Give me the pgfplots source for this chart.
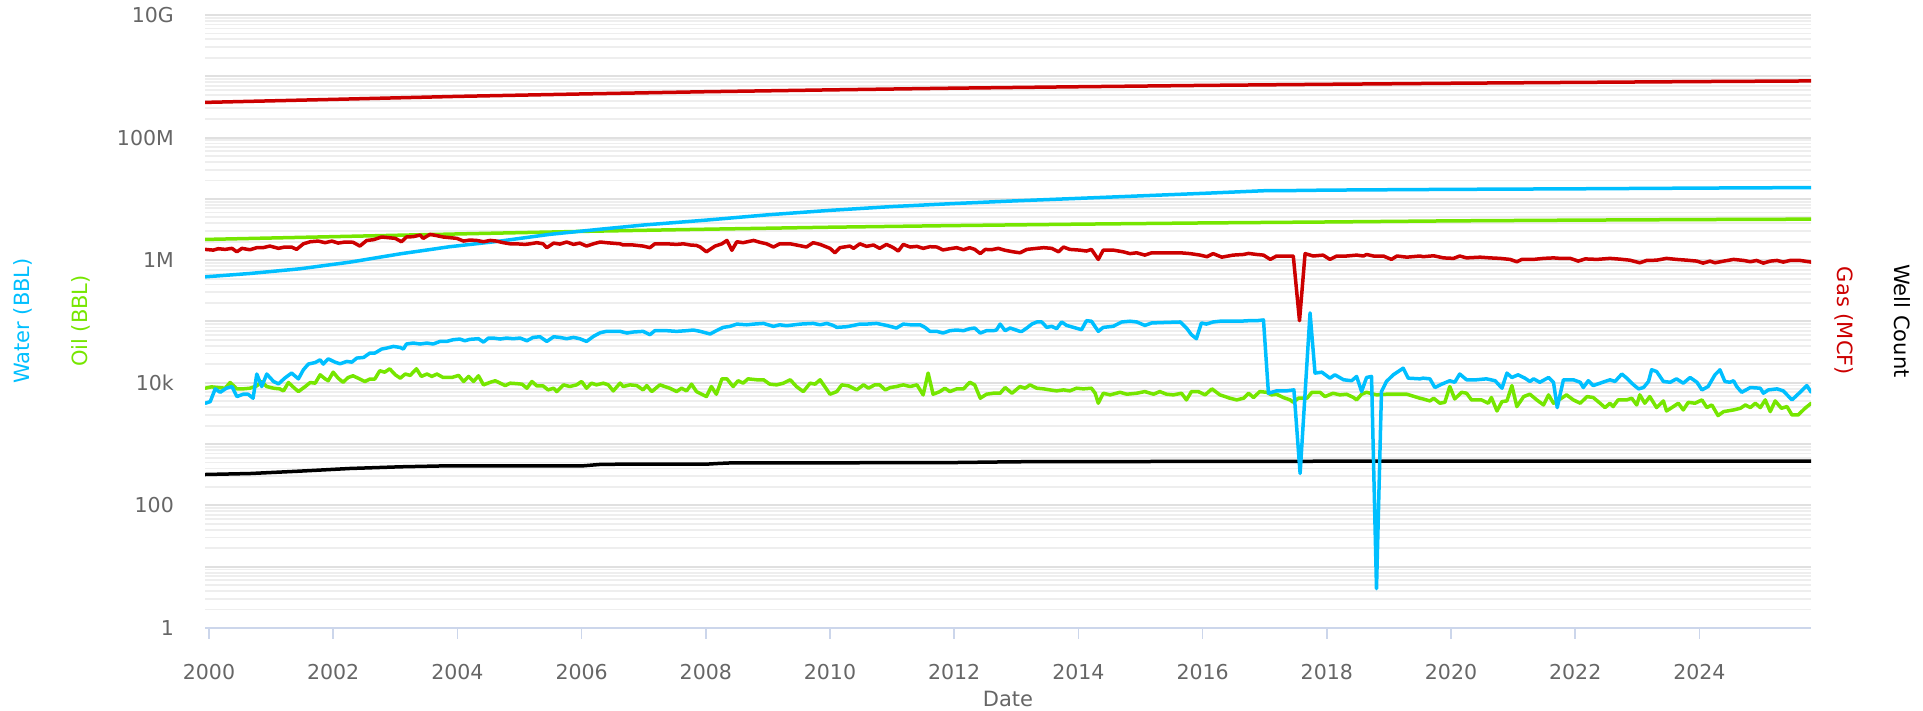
\documentclass[border=0pt]{standalone}
\usepackage{fontspec}
\setmainfont{DejaVu Sans}
\usepackage{pgfplots}
\pgfplotsset{compat=1.18}
\definecolor{gasc}{RGB}{204,0,0}
\definecolor{waterc}{RGB}{0,191,255}
\definecolor{oilc}{RGB}{118,230,0}
\definecolor{labc}{RGB}{102,102,102}
\definecolor{axc}{RGB}{204,214,235}
\definecolor{gridmaj}{RGB}{224,224,224}
\definecolor{gridmin}{RGB}{238,238,238}
\begin{document}
\begin{tikzpicture}[x=1bp,y=1bp]
\useasboundingbox (0,0) rectangle (1923,711);
\begin{axis}[
  at={(205bp,83bp)}, anchor=south west,
  scale only axis, width=1606bp, height=613bp,
  ymode=log,
  xmin=1999.936, xmax=2025.797, ymin=1, ymax=1e10,
  axis x line*=bottom, axis y line*=left,
  x axis line style={draw=axc, line width=2bp},
  y axis line style={draw=none},
  xtick={2000,2002,2004,2006,2008,2010,2012,2014,2016,2018,2020,2022,2024},
  xticklabels={2000,2002,2004,2006,2008,2010,2012,2014,2016,2018,2020,2022,2024},
  xtick align=outside,
  major tick length=11bp,
  xtick style={draw=axc, line width=1.5bp},
  ytick={1,10,100,1000,10000,100000,1000000,1e7,1e8,1e9,1e10},
  yticklabels={1,,100,,10k,,1M,,100M,,10G},
  ytick style={draw=none},
  minor ytick={2,3,4,5,6,7,8,9,20,30,40,50,60,70,80,90,200,300,400,500,600,700,800,900,2000,3000,4000,5000,6000,7000,8000,9000,2e4,3e4,4e4,5e4,6e4,7e4,8e4,9e4,2e5,3e5,4e5,5e5,6e5,7e5,8e5,9e5,2e6,3e6,4e6,5e6,6e6,7e6,8e6,9e6,2e7,3e7,4e7,5e7,6e7,7e7,8e7,9e7,2e8,3e8,4e8,5e8,6e8,7e8,8e8,9e8,2e9,3e9,4e9,5e9,6e9,7e9,8e9,9e9},
  ymajorgrids, yminorgrids,
  major grid style={draw=gridmaj, line width=2bp},
  minor grid style={draw=gridmin, line width=1.8bp},
  tick label style={font=\fontsize{20.5bp}{20.5bp}\selectfont, text=labc},
  xticklabel style={anchor=base, yshift=-41bp},
  yticklabel style={anchor=east, inner sep=0pt, xshift=-31bp},
  /pgf/number format/assume math mode=true,
  every axis plot/.append style={line width=3.5bp, line join=round, line cap=round, no markers},
]
% cumulative oil
\addplot[oilc] coordinates {(1999.94,2.18e6)(2002,2.42e6)(2004,2.68e6)(2006,2.95e6)(2008,3.2e6)(2010,3.45e6)(2012,3.67e6)(2014,3.87e6)(2016,4.05e6)(2018,4.2e6)(2020,4.38e6)(2022,4.5e6)(2024,4.6e6)(2025.8,4.67e6)};
% cumulative water
\addplot[waterc] coordinates {(1999.94,5.35e5)(2000.66,6.07e5)(2001.46,7.23e5)(2002.27,9.29e5)(2003.08,1.27e6)(2003.88,1.66e6)(2004.69,2.05e6)(2005.49,2.64e6)(2006.30,3.2e6)(2007,3.75e6)(2008,4.5e6)(2009,5.5e6)(2010,6.5e6)(2011,7.5e6)(2012,8.4e6)(2013,9.3e6)(2014,1.02e7)(2015,1.12e7)(2016,1.23e7)(2017,1.36e7)(2017.5,1.37e7)(2018,1.39e7)(2019,1.41e7)(2020,1.43e7)(2022,1.46e7)(2024,1.50e7)(2025.8,1.53e7)};
% cumulative gas
\addplot[gasc] coordinates {(1999.94,3.75e8)(2002,4.2e8)(2004,4.7e8)(2006,5.15e8)(2008,5.6e8)(2010,6.0e8)(2012,6.4e8)(2014,6.75e8)(2016,7.1e8)(2018,7.4e8)(2020,7.7e8)(2022,7.95e8)(2024,8.2e8)(2025.8,8.4e8)};
% well count
\addplot[black] coordinates {(1999.94,319)(2000.66,331)(2001.46,362)(2002.27,400)(2003.08,426)(2003.88,443)(2005.5,443)(2006.0,440)(2006.3,466)(2006.62,470)(2008.0,470)(2008.2,483)(2008.44,495)(2010,495)(2012,500)(2013,515)(2016,522)(2019,527)(2025.8,527)};
% oil monthly
\addplot[oilc] coordinates {
(1999.94,8.16e3)(2000.04,8.58e3)(2000.15,8.37e3)(2000.26,8.16e3)(2000.34,1.01e4)(2000.45,7.96e3)(2000.55,7.96e3)(2000.66,8.16e3)(2000.77,8.9e3)(2000.85,1.05e4)(2000.93,8.69e3)(2001.04,8.16e3)(2001.14,7.96e3)(2001.20,7.38e3)(2001.28,1.01e4)(2001.36,8.47e3)(2001.44,7.19e3)(2001.55,8.69e3)(2001.63,1.01e4)(2001.71,9.86e3)(2001.79,1.35e4)(2001.87,1.16e4)(2001.92,1.08e4)(2002.00,1.49e4)(2002.08,1.19e4)(2002.16,1.02e4)(2002.24,1.22e4)(2002.32,1.30e4)(2002.40,1.19e4)(2002.51,1.05e4)(2002.59,1.15e4)(2002.67,1.15e4)(2002.75,1.57e4)(2002.83,1.49e4)(2002.91,1.69e4)(2003.00,1.35e4)(2003.08,1.19e4)(2003.16,1.39e4)(2003.24,1.32e4)(2003.34,1.69e4)(2003.42,1.27e4)(2003.51,1.39e4)(2003.59,1.27e4)(2003.67,1.39e4)(2003.77,1.22e4)(2003.91,1.22e4)(2004.02,1.32e4)(2004.10,1.05e4)(2004.18,1.27e4)(2004.26,1.05e4)(2004.34,1.30e4)(2004.42,9.25e3)(2004.53,1.02e4)(2004.61,1.08e4)(2004.69,9.86e3)(2004.77,9.0e3)(2004.85,9.86e3)(2004.95,9.7e3)(2005.04,9.5e3)(2005.12,8.16e3)(2005.20,1.05e4)(2005.28,8.9e3)(2005.38,8.9e3)(2005.46,7.66e3)(2005.55,8.16e3)(2005.60,7.19e3)(2005.71,9.25e3)(2005.81,8.69e3)(2005.92,9.25e3)(2006.00,1.05e4)(2006.08,8.16e3)(2006.16,9.86e3)(2006.24,9.25e3)(2006.35,9.86e3)(2006.43,9.25e3)(2006.51,7.38e3)(2006.62,9.86e3)
(2006.67,8.69e3)(2006.78,9.25e3)(2006.89,9.0e3)(2006.99,7.66e3)(2007.05,9.0e3)(2007.13,7.19e3)(2007.26,9.25e3)(2007.42,8.16e3)(2007.53,7.19e3)(2007.61,8.16e3)(2007.69,7.38e3)(2007.77,9.5e3)(2007.85,7.19e3)(2008.01,5.96e3)(2008.09,8.69e3)(2008.17,6.51e3)(2008.26,1.16e4)(2008.34,1.16e4)(2008.44,8.69e3)(2008.52,1.08e4)(2008.60,9.86e3)(2008.68,1.16e4)(2008.82,1.12e4)(2008.93,1.12e4)(2009.03,9.5e3)(2009.14,9.25e3)(2009.25,9.86e3)(2009.36,1.12e4)(2009.46,8.69e3)(2009.57,7.19e3)(2009.68,9.86e3)(2009.76,9.5e3)(2009.84,1.12e4)(2010.00,6.51e3)(2010.11,7.19e3)(2010.19,9.25e3)(2010.30,8.9e3)(2010.43,7.66e3)(2010.54,9.25e3)(2010.62,8.16e3)(2010.72,9.25e3)(2010.80,9.25e3)(2010.89,7.66e3)(2010.97,8.37e3)(2011.07,8.69e3)(2011.18,9.25e3)(2011.29,8.69e3)(2011.40,9.25e3)(2011.50,6.35e3)(2011.58,1.44e4)(2011.66,6.51e3)(2011.77,7.19e3)(2011.85,8.16e3)(2011.93,7.19e3)(2012.04,7.96e3)(2012.15,7.96e3)(2012.25,1.02e4)(2012.33,9.25e3)(2012.42,5.60e3)(2012.52,6.51e3)(2012.63,6.76e3)(2012.74,6.76e3)(2012.82,8.37e3)(2012.93,6.76e3)(2013.06,8.69e3)
(2013.14,8.16e3)(2013.22,9.25e3)(2013.33,8.16e3)(2013.44,7.96e3)(2013.54,7.66e3)(2013.65,7.38e3)(2013.76,7.66e3)(2013.86,7.38e3)(2013.97,8.16e3)(2014.08,7.96e3)(2014.21,8.16e3)(2014.27,6.76e3)(2014.32,4.64e3)(2014.40,6.76e3)(2014.51,6.35e3)(2014.67,7.0e3)(2014.78,6.51e3)(2014.94,6.76e3)(2015.07,7.19e3)(2015.21,6.51e3)(2015.31,7.19e3)(2015.42,6.51e3)(2015.53,6.35e3)(2015.66,6.76e3)(2015.74,5.26e3)(2015.82,7.19e3)(2015.93,7.19e3)(2016.04,6.35e3)(2016.15,7.96e3)(2016.28,6.35e3)(2016.44,5.60e3)(2016.55,5.26e3)(2016.66,5.60e3)(2016.74,6.76e3)(2016.82,5.75e3)(2016.92,7.19e3)(2017.03,7.0e3)(2017.11,6.35e3)(2017.19,6.51e3)(2017.30,5.75e3)(2017.41,5.26e3)(2017.46,4.80e3)(2017.54,5.60e3)(2017.68,5.60e3)(2017.76,7.0e3)(2017.89,7.0e3)(2017.97,5.96e3)(2018.10,6.76e3)(2018.21,6.35e3)(2018.32,6.51e3)(2018.43,5.75e3)(2018.48,5.26e3)(2018.56,6.51e3)(2018.64,7.0e3)(2018.80,6.35e3)(2018.96,6.51e3)(2019.12,6.51e3)(2019.29,6.51e3)(2019.50,5.60e3)
(2019.55,5.45e3)(2019.66,5.06e3)(2019.72,5.60e3)(2019.82,4.64e3)(2019.90,4.80e3)(2019.98,8.69e3)(2020.06,5.45e3)(2020.17,7.0e3)(2020.25,6.76e3)(2020.33,5.26e3)(2020.49,5.26e3)(2020.60,4.64e3)(2020.65,5.75e3)(2020.74,3.47e3)(2020.82,4.93e3)(2020.90,5.06e3)(2020.98,9.0e3)(2021.06,4.09e3)(2021.17,5.96e3)(2021.27,6.51e3)(2021.38,5.26e3)(2021.49,4.35e3)(2021.57,6.35e3)(2021.65,4.64e3)(2021.76,5.45e3)(2021.86,6.35e3)(2021.97,5.26e3)(2022.08,4.64e3)(2022.19,5.96e3)(2022.29,5.75e3)(2022.40,4.64e3)(2022.48,3.94e3)(2022.56,4.64e3)(2022.61,4.09e3)(2022.69,5.26e3)(2022.83,5.26e3)(2022.91,5.60e3)(2022.99,4.35e3)(2023.04,6.35e3)(2023.12,4.64e3)(2023.20,5.96e3)(2023.31,3.94e3)(2023.42,5.06e3)(2023.47,3.47e3)(2023.58,4.09e3)(2023.66,4.64e3)(2023.74,3.61e3)(2023.82,4.80e3)(2023.93,4.64e3)(2024.04,5.26e3)(2024.12,3.94e3)(2024.20,4.35e3)(2024.30,2.92e3)(2024.39,3.39e3)(2024.55,3.61e3)(2024.66,3.84e3)(2024.74,4.35e3)(2024.82,3.94e3)(2024.90,4.64e3)(2024.98,3.94e3)(2025.06,5.26e3)(2025.14,3.39e3)(2025.22,5.06e3)(2025.32,3.84e3)(2025.41,4.09e3)(2025.49,2.99e3)(2025.59,2.99e3)(2025.70,3.84e3)(2025.80,4.64e3)};
% gas monthly
\addplot[gasc] coordinates {
(1999.94,1.50e6)(2000.07,1.46e6)(2000.15,1.54e6)(2000.26,1.50e6)(2000.37,1.56e6)(2000.45,1.37e6)(2000.53,1.56e6)(2000.66,1.48e6)(2000.77,1.60e6)(2000.87,1.60e6)(2000.98,1.70e6)(2001.12,1.56e6)(2001.22,1.64e6)(2001.33,1.64e6)(2001.41,1.50e6)(2001.52,1.85e6)(2001.63,2.00e6)(2001.76,2.05e6)(2001.87,1.93e6)(2001.98,2.05e6)(2002.08,1.90e6)(2002.19,1.98e6)(2002.32,1.96e6)(2002.43,1.70e6)(2002.54,2.10e6)(2002.65,2.16e6)(2002.78,2.39e6)(2002.89,2.33e6)(2003.00,2.27e6)(2003.10,2.00e6)(2003.18,2.39e6)(2003.29,2.42e6)(2003.40,2.57e6)(2003.45,2.27e6)(2003.56,2.64e6)(2003.67,2.51e6)(2003.77,2.39e6)(2003.88,2.33e6)(2003.99,2.27e6)(2004.10,2.05e6)(2004.20,2.13e6)(2004.31,2.10e6)(2004.42,2.00e6)(2004.53,2.10e6)(2004.63,2.05e6)(2004.74,1.93e6)(2004.85,1.85e6)(2004.95,1.85e6)(2005.09,1.81e6)(2005.17,1.85e6)(2005.28,1.93e6)(2005.38,1.85e6)(2005.44,1.60e6)(2005.55,1.90e6)(2005.65,1.83e6)(2005.76,1.98e6)(2005.87,1.81e6)(2005.97,1.90e6)(2006.08,1.70e6)(2006.19,1.85e6)(2006.30,1.98e6)(2006.40,1.93e6)(2006.62,1.85e6)
(2006.67,1.77e6)(2006.83,1.77e6)(2006.99,1.70e6)(2007.10,1.60e6)(2007.18,1.85e6)(2007.37,1.85e6)(2007.53,1.81e6)(2007.64,1.85e6)(2007.75,1.77e6)(2007.85,1.74e6)(2007.91,1.64e6)(2008.01,1.37e6)(2008.15,1.70e6)(2008.26,1.85e6)(2008.34,2.10e6)(2008.42,1.45e6)(2008.50,2.00e6)(2008.60,1.93e6)(2008.77,2.10e6)(2008.87,1.96e6)(2008.98,1.85e6)(2009.09,1.64e6)(2009.19,1.85e6)(2009.36,1.85e6)(2009.52,1.72e6)(2009.62,1.64e6)(2009.73,1.93e6)(2009.84,1.81e6)(2010.00,1.56e6)(2010.08,1.32e6)(2010.16,1.60e6)(2010.32,1.70e6)(2010.38,1.56e6)(2010.48,1.85e6)(2010.59,1.68e6)(2010.70,1.77e6)(2010.80,1.56e6)(2010.91,1.81e6)(2011.02,1.60e6)(2011.10,1.41e6)(2011.18,1.81e6)(2011.29,1.64e6)(2011.40,1.68e6)(2011.50,1.56e6)(2011.61,1.66e6)(2011.72,1.64e6)(2011.82,1.47e6)(2011.93,1.54e6)(2012.04,1.60e6)(2012.15,1.48e6)(2012.25,1.60e6)(2012.33,1.50e6)(2012.42,1.28e6)(2012.50,1.50e6)(2012.60,1.48e6)(2012.71,1.56e6)(2012.82,1.45e6)(2012.95,1.37e6)(2013.06,1.32e6)
(2013.17,1.50e6)(2013.33,1.56e6)(2013.44,1.60e6)(2013.57,1.56e6)(2013.68,1.37e6)(2013.76,1.64e6)(2013.86,1.50e6)(2014.02,1.46e6)(2014.13,1.41e6)(2014.21,1.50e6)(2014.32,1.03e6)(2014.40,1.46e6)(2014.56,1.46e6)(2014.72,1.37e6)(2014.83,1.28e6)(2014.94,1.32e6)(2015.07,1.21e6)(2015.18,1.32e6)(2015.31,1.32e6)(2015.47,1.32e6)(2015.64,1.32e6)(2015.80,1.28e6)(2015.96,1.21e6)(2016.07,1.14e6)(2016.17,1.28e6)(2016.31,1.12e6)(2016.49,1.21e6)(2016.66,1.24e6)(2016.74,1.29e6)(2016.87,1.24e6)(2016.98,1.21e6)(2017.09,1.03e6)(2017.19,1.17e6)(2017.35,1.17e6)(2017.46,1.17e6)(2017.56,1.03e5)(2017.65,1.28e6)(2017.78,1.17e6)(2017.94,1.21e6)(2018.05,1.03e6)(2018.16,1.17e6)(2018.32,1.17e6)(2018.48,1.21e6)(2018.59,1.17e6)(2018.64,1.24e6)(2018.75,1.17e6)(2018.91,1.17e6)(2019.04,1.03e6)(2019.13,1.17e6)(2019.29,1.12e6)(2019.50,1.17e6)
(2019.55,1.14e6)(2019.72,1.18e6)(2019.88,1.09e6)(2020.04,1.07e6)(2020.14,1.17e6)(2020.25,1.09e6)(2020.47,1.12e6)(2020.63,1.09e6)(2020.79,1.07e6)(2020.95,1.03e6)(2021.06,9.43e5)(2021.14,1.03e6)(2021.33,1.03e6)(2021.49,1.07e6)(2021.65,1.09e6)(2021.76,1.07e6)(2021.92,1.07e6)(2022.05,9.66e5)(2022.16,1.05e6)(2022.35,1.03e6)(2022.56,1.07e6)(2022.72,1.04e6)(2022.88,1.00e6)(2023.04,9.06e5)(2023.15,9.91e5)(2023.31,1.00e6)(2023.47,1.07e6)(2023.63,1.03e6)(2023.80,1.00e6)(2023.96,9.66e5)(2024.06,8.95e5)(2024.17,9.66e5)(2024.25,9.06e5)(2024.39,9.66e5)(2024.55,1.03e6)(2024.71,9.91e5)(2024.82,9.43e5)(2024.92,9.91e5)(2025.03,8.95e5)(2025.14,9.66e5)(2025.25,9.91e5)(2025.35,9.31e5)(2025.46,9.91e5)(2025.62,9.91e5)(2025.80,9.31e5)};
% water monthly
\addplot[waterc] coordinates {
(1999.94,4.64e3)(2000.02,4.93e3)(2000.10,7.96e3)(2000.18,7.0e3)(2000.28,8.16e3)(2000.37,8.69e3)(2000.45,5.96e3)(2000.55,6.51e3)(2000.63,6.51e3)(2000.71,5.60e3)(2000.77,1.39e4)(2000.85,8.69e3)(2000.93,1.39e4)(2001.04,1.05e4)(2001.12,9.6e3)(2001.22,1.19e4)(2001.33,1.44e4)(2001.44,1.16e4)(2001.52,1.63e4)(2001.60,2.02e4)(2001.71,2.14e4)(2001.79,2.37e4)(2001.84,2.02e4)(2001.92,2.46e4)(2002.03,2.17e4)(2002.11,2.04e4)(2002.22,2.23e4)(2002.30,2.17e4)(2002.38,2.53e4)(2002.49,2.59e4)(2002.59,3.05e4)(2002.67,3.05e4)(2002.78,3.55e4)(2002.86,3.68e4)(2002.97,3.92e4)(2003.08,3.77e4)(2003.13,3.55e4)(2003.18,4.29e4)(2003.29,4.45e4)(2003.40,4.29e4)(2003.51,4.45e4)(2003.61,4.29e4)(2003.72,4.73e4)(2003.83,4.73e4)(2003.93,5.04e4)(2004.04,5.17e4)(2004.12,4.85e4)(2004.20,5.11e4)(2004.34,5.24e4)(2004.42,4.61e4)(2004.50,5.37e4)(2004.58,5.37e4)(2004.69,5.17e4)(2004.79,5.37e4)(2004.90,5.24e4)(2005.01,5.37e4)(2005.12,4.85e4)(2005.22,5.50e4)(2005.33,5.64e4)(2005.44,4.73e4)(2005.55,5.64e4)(2005.65,5.50e4)(2005.76,5.24e4)(2005.87,5.50e4)(2005.97,5.24e4)(2006.08,4.73e4)(2006.19,5.71e4)(2006.30,6.56e4)(2006.40,6.90e4)(2006.62,6.90e4)
(2006.73,6.48e4)(2006.83,6.73e4)(2006.99,6.90e4)(2007.10,6.09e4)(2007.18,7.08e4)(2007.37,7.08e4)(2007.53,6.90e4)(2007.69,7.08e4)(2007.80,7.26e4)(2007.91,6.90e4)(2008.07,6.25e4)(2008.17,7.08e4)(2008.28,8.02e4)(2008.39,8.32e4)(2008.50,9.07e4)(2008.66,8.84e4)(2008.77,9.07e4)(2008.93,9.30e4)(2009.09,8.32e4)(2009.19,8.84e4)(2009.30,8.52e4)(2009.52,9.07e4)(2009.73,9.30e4)(2009.84,8.84e4)(2009.95,9.30e4)(2010.05,8.63e4)(2010.11,8.02e4)(2010.27,8.22e4)(2010.38,8.63e4)(2010.48,9.07e4)(2010.59,9.07e4)(2010.75,9.30e4)(2010.91,8.63e4)(2011.07,7.83e4)(2011.18,9.07e4)(2011.29,8.84e4)(2011.45,8.84e4)(2011.53,8.02e4)(2011.61,6.90e4)(2011.72,6.90e4)(2011.82,6.48e4)(2011.93,7.08e4)(2012.04,7.26e4)(2012.15,7.08e4)(2012.25,7.63e4)(2012.33,7.83e4)(2012.42,6.48e4)(2012.52,7.08e4)(2012.63,7.08e4)(2012.68,7.26e4)(2012.74,9.07e4)(2012.82,7.08e4)(2012.90,7.83e4)(2013.06,6.90e4)
(2013.09,6.90e4)(2013.17,7.83e4)(2013.25,9.07e4)(2013.33,9.82e4)(2013.41,9.82e4)(2013.49,8.02e4)(2013.57,8.34e4)(2013.65,7.63e4)(2013.73,9.82e4)(2013.81,8.63e4)(2013.92,8.02e4)(2014.05,7.35e4)(2014.13,1.03e5)(2014.21,1.01e5)(2014.32,6.90e4)(2014.40,8.02e4)(2014.56,8.34e4)(2014.70,9.82e4)(2014.83,1.01e5)(2014.94,9.82e4)(2015.07,8.63e4)(2015.18,9.46e4)(2015.31,9.58e4)(2015.47,9.70e4)(2015.64,9.82e4)(2015.74,7.83e4)(2015.82,6.09e4)(2015.90,5.24e4)(2015.98,9.46e4)(2016.06,9.07e4)(2016.17,9.82e4)(2016.28,1.01e5)(2016.44,1.01e5)(2016.60,1.01e5)(2016.74,1.03e5)(2016.87,1.03e5)(2016.98,1.06e5)(2017.06,6.76e3)(2017.19,7.38e3)(2017.35,7.38e3)(2017.47,7.66e3)(2017.57,331)(2017.73,1.38e5)(2017.81,1.44e4)(2017.92,1.49e4)(2018.05,1.19e4)(2018.13,1.35e4)(2018.27,1.12e4)(2018.40,1.08e4)(2018.48,1.27e4)(2018.56,7.19e3)(2018.64,1.22e4)(2018.72,1.27e4)(2018.80,4.4)(2018.88,7.19e3)(2018.96,1.05e4)(2019.07,1.35e4)(2019.23,1.73e4)(2019.31,1.19e4)(2019.50,1.16e4)
(2019.55,1.19e4)(2019.66,1.16e4)(2019.74,8.37e3)(2019.85,9.5e3)(2019.98,1.08e4)(2020.06,1.02e4)(2020.14,1.39e4)(2020.25,1.12e4)(2020.41,1.12e4)(2020.57,1.16e4)(2020.71,1.08e4)(2020.82,8.16e3)(2020.90,1.44e4)(2020.98,1.22e4)(2021.08,1.35e4)(2021.19,1.19e4)(2021.27,1.05e4)(2021.33,1.16e4)(2021.43,1.02e4)(2021.57,1.22e4)(2021.65,1.02e4)(2021.71,3.94e3)(2021.81,1.12e4)(2021.97,1.12e4)(2022.08,1.02e4)(2022.13,8.37e3)(2022.21,1.08e4)(2022.29,9.0e3)(2022.40,9.86e3)(2022.56,1.12e4)(2022.64,1.05e4)(2022.75,1.39e4)(2022.83,1.19e4)(2022.94,9.25e3)(2023.02,7.96e3)(2023.10,8.37e3)(2023.18,1.05e4)(2023.23,1.63e4)(2023.31,1.53e4)(2023.42,1.05e4)(2023.53,1.02e4)(2023.63,1.16e4)(2023.74,9.86e3)(2023.85,1.22e4)(2023.96,1.02e4)(2024.04,7.66e3)(2024.14,8.69e3)(2024.25,1.35e4)(2024.33,1.63e4)(2024.41,1.05e4)(2024.49,1.02e4)(2024.55,1.08e4)(2024.60,8.69e3)(2024.68,7.0e3)(2024.82,8.37e3)(2024.98,8.16e3)(2025.03,6.76e3)(2025.11,7.66e3)(2025.25,7.96e3)(2025.35,7.38e3)(2025.49,5.26e3)(2025.62,7.0e3)(2025.73,9.0e3)(2025.80,7.0e3)};
\end{axis}
\node[rotate=90, text=waterc, font=\fontsize{21bp}{21bp}\selectfont] at (23,390) {Water (BBL)};
\node[rotate=90, text=oilc, font=\fontsize{21bp}{21bp}\selectfont] at (81,390) {Oil (BBL)};
\node[rotate=-90, text=gasc, font=\fontsize{21bp}{21bp}\selectfont] at (1844,390) {Gas (MCF)};
\node[rotate=-90, text=black, font=\fontsize{21bp}{21bp}\selectfont] at (1902,390) {Well Count};
\node[text=labc, font=\fontsize{21bp}{21bp}\selectfont] at (1008,12) {Date};
\end{tikzpicture}
\end{document}
